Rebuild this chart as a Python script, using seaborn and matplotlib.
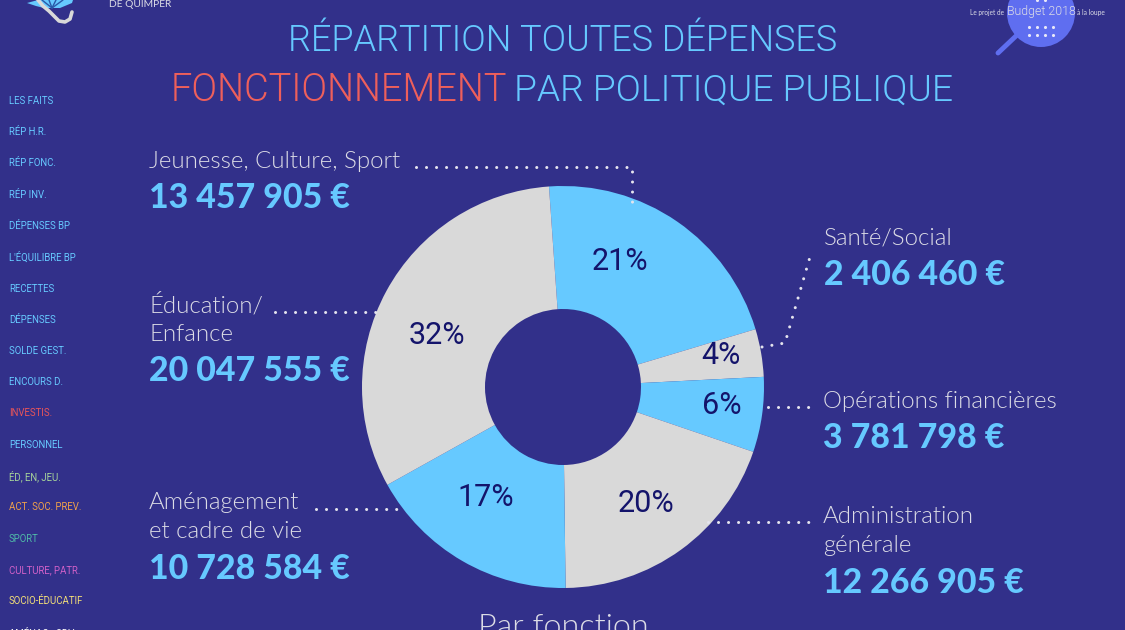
import matplotlib
matplotlib.use("Agg")
import matplotlib.pyplot as plt
from matplotlib.patches import Circle, Polygon
import seaborn as sns

BG = "#32308a"
BLUE = "#66c9ff"
GREY = "#d9d9d9"
RED = "#ee5f5b"
NAVY = "#14146b"
LABEL = "#dcdce6"

categories = ["Jeunesse, Culture, Sport", "Santé/Social", "Opérations financières",
              "Administration\ngénérale", "Aménagement\net cadre de vie", "Éducation/\nEnfance"]
values = [13457905, 2406460, 3781798, 12266905, 10728584, 20047555]
amount_labels = ["13 457 905 €", "2 406 460 €", "3 781 798 €",
                 "12 266 905 €", "10 728 584 €", "20 047 555 €"]
slice_colors = [BLUE, GREY, BLUE, GREY, BLUE, GREY]
nav_labels = ["LES FAITS", "RÉP H.R.", "RÉP FONC.", "RÉP INV.", "DÉPENSES BP", "L'ÉQUILIBRE BP",
              "RECETTES", "DÉPENSES", "SOLDE GEST.", "ENCOURS D.", "INVESTIS.", "PERSONNEL",
              "ÉD, EN, JEU.", "ACT. SOC. PREV.", "SPORT", "CULTURE, PATR.", "SOCIO-ÉDUCATIF", "AMÉNAG., CDV"]
nav_colors = [BLUE] * 10 + ["#e8555a", BLUE, "#a5d29a", "#f0a04b", "#4fb8a8", "#d060c8", "#f2de78", "#f4f4f4"]

sns.set_theme(style="white", rc={"figure.facecolor": BG, "axes.facecolor": BG, "savefig.facecolor": BG})
plt.rcParams["font.family"] = ["Lato", "DejaVu Sans"]
NARROW = ["Roboto", "DejaVu Sans"]

W, H = 1125, 630
fig = plt.figure(figsize=(W / 100, H / 100), dpi=100)
ax = fig.add_axes([0, 0, 1, 1])


def Y(y):
    return H - y


# doughnut
wedges, _, pct = ax.pie(values, colors=sns.color_palette(slice_colors), startangle=94.0, counterclock=False,
                        center=(563, Y(387)), radius=201, frame=True,
                        wedgeprops=dict(width=123, linewidth=0),
                        autopct=lambda p: f"{p:.0f}%", pctdistance=0.69,
                        textprops=dict(color=NAVY, fontsize=22, fontweight=400, family=NARROW))
pct_places = [(620, 261), (721, 355), (722, 406), (646, 503), (486, 498), (437, 336)]
for t, (px, py) in zip(pct, pct_places):
    t.set_position((px, Y(py)))
ax.set_xlim(0, W)
ax.set_ylim(0, H)
ax.set_aspect("auto")
ax.axis("off")

# title
tkw = dict(fontweight=300, family=NARROW, va="baseline")
ax.text(563, Y(51), "RÉPARTITION TOUTES DÉPENSES", color=BLUE, ha="center", fontsize=26, **tkw)
ax.text(171, Y(101), "FONCTIONNEMENT", color=RED, ha="left", fontsize=27.4, **tkw)
ax.text(514, Y(101), "PAR POLITIQUE PUBLIQUE", color=BLUE, ha="left", fontsize=26.8, **tkw)
ax.text(563, Y(628), "Par fonction", color=LABEL, fontsize=23.3, fontweight=300, ha="center", va="center")

# callouts: label x, label y, amount y
layout = [(149, 162, 198), (824, 238, 275), (823, 401, 438), (823, 531, 583), (149, 517, 569), (149, 319, 371)]
for cat, amt, (x, ly, ay) in zip(categories, amount_labels, layout):
    ax.text(x, Y(ly), cat, color=LABEL, fontsize=17.3, fontweight=300, ha="left", va="center", linespacing=1.45)
    ax.text(x, Y(ay), amt, color=BLUE, fontsize=24.4, fontweight="black", ha="left", va="center")

# dotted leaders
leaders = [([416, 632, 632], [167, 167, 209]),
           ([762, 785, 812], [347, 343, 250]),
           ([768, 813], [407, 407]),
           ([708, 813], [522, 522]),
           ([316, 405], [509, 509]),
           ([275, 378], [312, 312])]
for xs, ys in leaders:
    ax.plot(xs, [Y(v) for v in ys], color="#e4e4ee", lw=2.2, dash_capstyle="round",
            linestyle=(0, (0.01, 3.27)), zorder=3)

# side navigation
for i, (lab, col) in enumerate(zip(nav_labels, nav_colors)):
    ax.text(9, Y(101 + i * 31.25), lab, color=col, fontsize=6.9, fontweight=400, family=NARROW,
            ha="left", va="center")

# magnifier badge
ax.plot([1016, 998], [Y(36), Y(53)], color="#5f6ef0", lw=3.5, solid_capstyle="round")
ax.add_patch(Circle((1041, Y(13)), 34, color="#5f6ef0", lw=0))
dots_x = [1029, 1037, 1045, 1053]
for yy in (27, 35):
    ax.scatter(dots_x, [Y(yy)] * 4, s=5, color="#e8e8f8", lw=0, zorder=4)
ax.scatter(dots_x[1:3], [Y(0)] * 2, s=5, color="#e8e8f8", lw=0, zorder=4)
ax.text(970, Y(12), "Le projet de", color=LABEL, fontsize=4.7, ha="left", va="center")
ax.text(1041, Y(12), "Budget 2018", color=LABEL, fontsize=8.9, fontweight=300, family=NARROW, ha="center", va="center")
ax.text(1077, Y(12), "à la loupe", color=LABEL, fontsize=4.8, ha="left", va="center")

# logo fragment
ax.text(109, Y(4.5), "DE QUIMPER", color=LABEL, fontsize=7.4, ha="left", va="center", fontweight=400)
ax.add_patch(Polygon([(27, Y(3)), (38, Y(0)), (73, Y(0)), (72, Y(3)), (60, Y(8)), (44, Y(8)), (36, Y(6))],
                     color=BLUE, lw=0))
for x1 in (42, 49, 56, 63):
    ax.plot([52, x1], [Y(8), Y(0)], color="#2a5aa8", lw=1)
ax.plot([38, 43, 49, 54, 59, 65, 70, 72], [Y(v) for v in (0, 6, 11, 16, 21, 22, 19, 12)],
        color=GREY, lw=2.6, solid_capstyle="round")

fig.savefig("out.png", dpi=100)
